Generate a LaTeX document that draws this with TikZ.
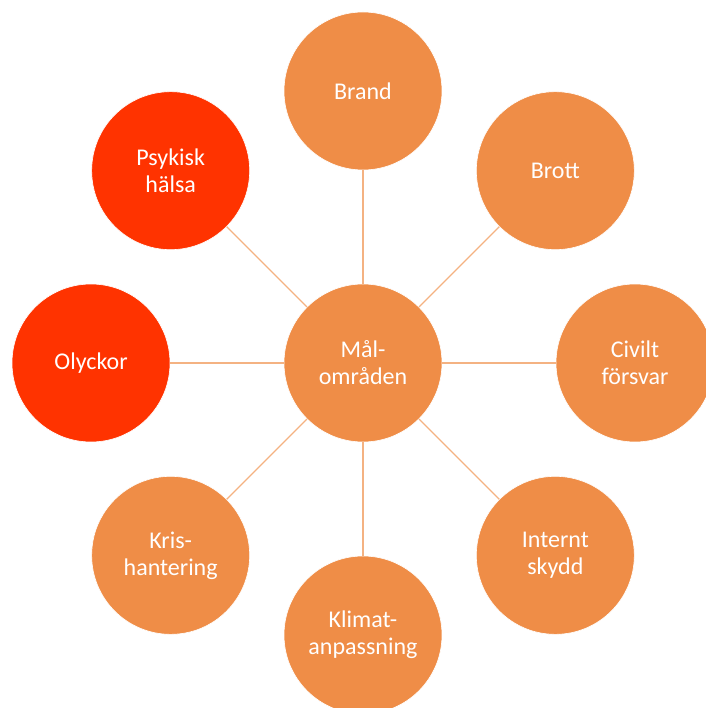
\documentclass[tikz,border=0pt]{standalone}
\usepackage{fontspec}
\setmainfont{Carlito}
\usepackage{tikz}
\tikzset{>=latex}
\definecolor{malorange}{RGB}{239,141,71}
\definecolor{malred}{RGB}{255,51,0}
\definecolor{spoke}{RGB}{244,178,130}
\tikzset{
  area/.style={circle,minimum size=158pt,inner sep=0pt,align=center,
    fill=malorange,draw=white,line width=0.6pt,text=white,
    font=\fontsize{24}{27}\selectfont},
  hot/.style={area,fill=malred},
  link/.style={spoke,line width=1.4pt}
}
\begin{document}
\begin{tikzpicture}[x=1pt,y=1pt]
       \useasboundingbox (-363,-345) rectangle (342,363);
       \node[area] (mal) at (0,0) {Mål-\\områden};
       \node[area] (brand) at (90:272) {Brand};
       \node[area] (brott) at (45:272) {Brott};
       \node[area] (civilt) at (0:272) {Civilt\\försvar};
       \node[area] (internt) at (-45:272) {Internt\\skydd};
       \node[area] (klimat) at (-90:272) {Klimat-\\anpassning};
       \node[area] (kris) at (-135:272) {Kris-\\hantering};
       \node[hot] (olyckor) at (180:272) {Olyckor};
       \node[hot] (psykisk) at (135:272) {Psykisk\\hälsa};
       \draw[link] (mal) -- (brand);
       \draw[link] (mal) -- (brott);
       \draw[link] (mal) -- (civilt);
       \draw[link] (mal) -- (internt);
       \draw[link] (mal) -- (klimat);
       \draw[link] (mal) -- (kris);
       \draw[link] (mal) -- (olyckor);
       \draw[link] (mal) -- (psykisk);
\end{tikzpicture}
\end{document}
